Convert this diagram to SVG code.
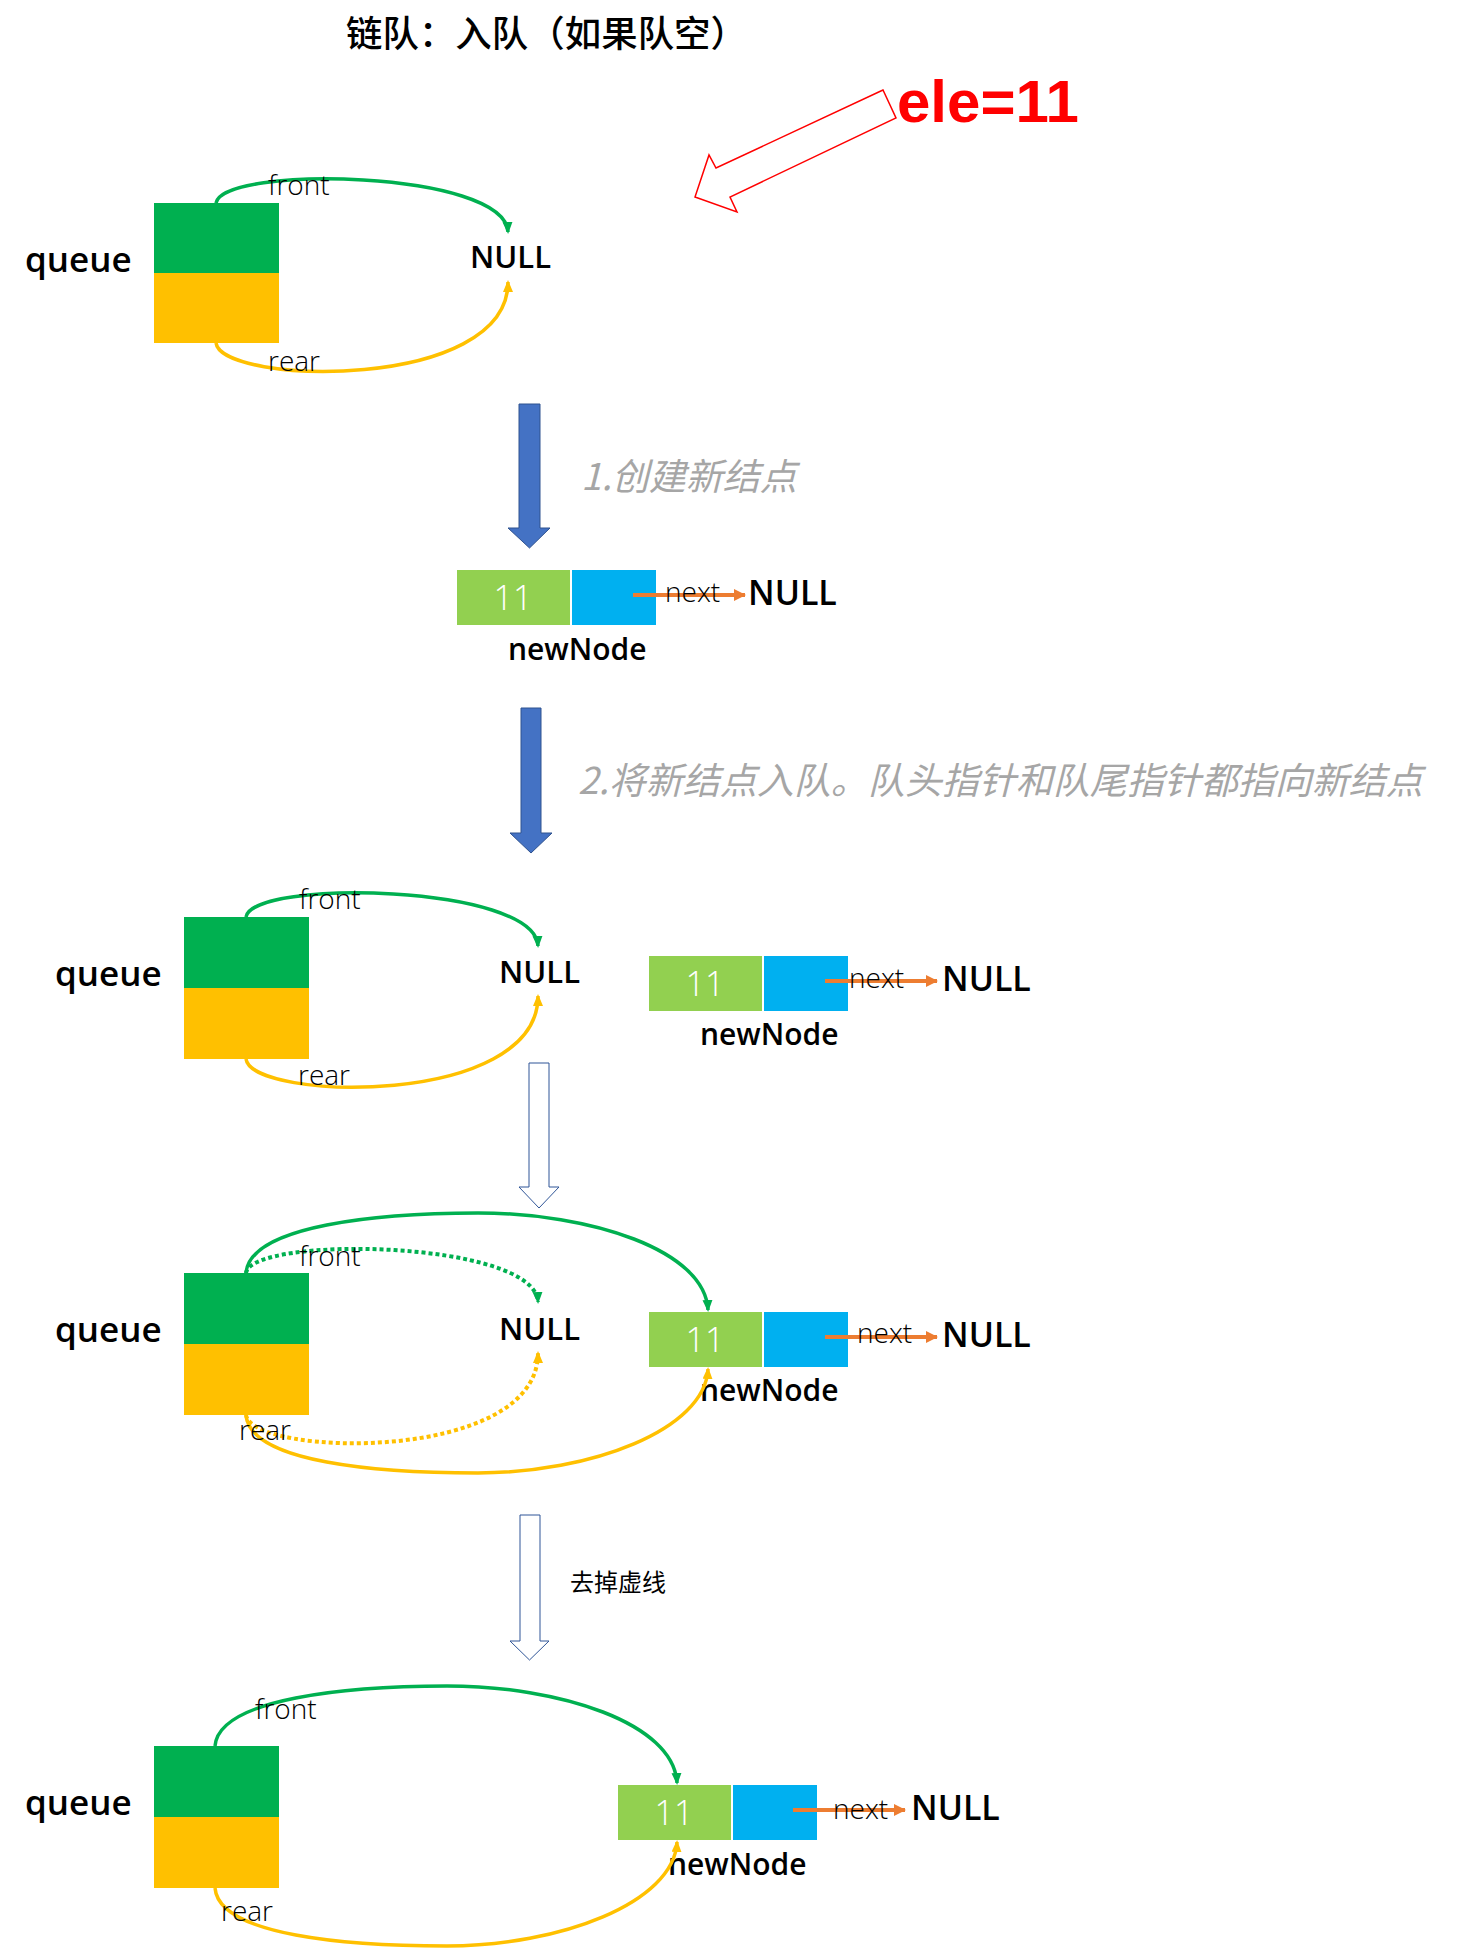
<svg xmlns="http://www.w3.org/2000/svg" width="1459" height="1949" viewBox="0 0 1459 1949">
<style>
.bg{fill:#FFFFFF}
.gr{fill:#00B050}
.yl{fill:#FFC000}
.lg{fill:#92D050}
.bl{fill:#00B0F0}
.lbl{font-family:"Open Sans","Liberation Sans",sans-serif;font-weight:600;fill:#000}
.q{font-size:35px}
.nul{font-size:34px}
.nulS{font-size:31px}
.nn{font-size:30px}
.thin{font-family:"Open Sans","Liberation Sans",sans-serif;font-weight:300;fill:#000;font-size:28px}
.val{font-family:"Open Sans","Liberation Sans",sans-serif;font-weight:300;fill:#FFFFFF;font-size:34px;text-anchor:middle}
.cjk{font-family:"Noto Sans CJK SC","Noto Sans",sans-serif}
.step{font-family:"Noto Sans CJK SC","Noto Sans",sans-serif;font-style:italic;fill:#A6A6A6;font-size:37px}
.cg{fill:none;stroke:#00B050;stroke-width:3.5}
.cy{fill:none;stroke:#FFC000;stroke-width:3.5}
.dot{stroke-width:4;stroke-dasharray:4 3}
.or{fill:none;stroke:#ED7D31;stroke-width:4}
.bigArrow{fill:#4472C4;stroke:#2F528F;stroke-width:1}
.hollow{fill:#FFFFFF;stroke:#2F5597;stroke-width:1}
</style>
<defs>
<marker id="ahG" markerUnits="userSpaceOnUse" markerWidth="13" markerHeight="11" refX="10" refY="5" orient="auto"><path d="M0,0 L12,5 L0,10 z" fill="#00B050"/></marker>
<marker id="ahY" markerUnits="userSpaceOnUse" markerWidth="13" markerHeight="11" refX="10" refY="5" orient="auto"><path d="M0,0 L12,5 L0,10 z" fill="#FFC000"/></marker>
<marker id="ahO" markerUnits="userSpaceOnUse" markerWidth="13" markerHeight="12" refX="11" refY="6" orient="auto"><path d="M0,0 L12,6 L0,12 z" fill="#ED7D31"/></marker>
</defs>
<rect class="bg" x="0" y="0" width="1459" height="1949"/>

<g id="title"><text class="cjk" x="346" y="47" font-size="36" font-weight="500" fill="#000" textLength="401" lengthAdjust="spacingAndGlyphs">链队：入队（如果队空）</text></g>

<g id="ele">
<polygon points="883,90 716,168 709,155 695,197 737,212 730,197 896,118" fill="#FFFFFF" stroke="#FF0000" stroke-width="1.5"/>
<text x="897" y="122" font-family="Liberation Sans,Arial,sans-serif" font-weight="bold" font-size="60" fill="#FF0000">ele=11</text>
</g>

<!-- Section 1 -->
<g id="queue1">
<text class="lbl q" x="25" y="272">queue</text>
<rect class="gr" x="154" y="203" width="125" height="70"/>
<rect class="yl" x="154" y="273" width="125" height="70"/>
</g>
<g id="null1"><text class="lbl nulS" x="470" y="268">NULL</text></g>

<!-- Section 2 -->
<g id="step1">
<polygon class="bigArrow" points="519,404 540,404 540,528 550,528 529.5,548 508,528 519,528"/>
<text class="step" x="581" y="490">1.创建新结点</text>
</g>
<g id="newNode1">
<rect class="lg" x="457" y="570" width="113" height="55"/>
<rect class="bl" x="572" y="570" width="84" height="55"/>
<text class="val" x="513" y="610">11</text>
<text class="lbl nn" x="508" y="660">newNode</text>
</g>
<g id="nullA"><text class="lbl nul" x="748" y="605">NULL</text></g>

<g id="step2">
<polygon class="bigArrow" points="521,708 541,708 541,833 552,833 531,853 510,833 521,833"/>
<text class="step" x="578" y="794">2.将新结点入队。队头指针和队尾指针都指向新结点</text>
</g>

<!-- Section 3 -->
<g id="queue3">
<text class="lbl q" x="55" y="986">queue</text>
<rect class="gr" x="184" y="917" width="125" height="71"/>
<rect class="yl" x="184" y="988" width="125" height="71"/>
</g>
<g id="null3"><text class="lbl nulS" x="499" y="983">NULL</text></g>
<g id="newNode3">
<rect class="lg" x="649" y="956" width="113" height="55"/>
<rect class="bl" x="764" y="956" width="84" height="55"/>
<text class="val" x="705" y="996">11</text>
<text class="lbl nn" x="700" y="1045">newNode</text>
</g>
<g id="nullB"><text class="lbl nul" x="942" y="991">NULL</text></g>

<g id="arrow3"><polygon class="hollow" points="529,1063 549,1063 549,1187 559,1187 539,1208 519,1187 529,1187"/></g>

<!-- Section 4 -->
<g id="queue4">
<text class="lbl q" x="55" y="1342">queue</text>
<rect class="gr" x="184" y="1273" width="125" height="71"/>
<rect class="yl" x="184" y="1344" width="125" height="71"/>
</g>
<g id="null4"><text class="lbl nulS" x="499" y="1340">NULL</text></g>
<g id="newNode4">
<rect class="lg" x="649" y="1312" width="113" height="55"/>
<rect class="bl" x="764" y="1312" width="84" height="55"/>
<text class="val" x="705" y="1352">11</text>
<text class="lbl nn" x="700" y="1401">newNode</text>
</g>
<g id="nullC"><text class="lbl nul" x="942" y="1347">NULL</text></g>

<g id="arrow4">
<polygon class="hollow" points="520,1515 540,1515 540,1641 549,1641 529.5,1660 510,1641 520,1641"/>
<text class="cjk" x="570" y="1591" font-size="24" fill="#000">去掉虚线</text>
</g>

<!-- Section 5 -->
<g id="queue5">
<text class="lbl q" x="25" y="1815">queue</text>
<rect class="gr" x="154" y="1746" width="125" height="71"/>
<rect class="yl" x="154" y="1817" width="125" height="71"/>
</g>
<g id="newNode5">
<rect class="lg" x="618" y="1785" width="113" height="55"/>
<rect class="bl" x="733" y="1785" width="84" height="55"/>
<text class="val" x="674" y="1825">11</text>
<text class="lbl nn" x="668" y="1875">newNode</text>
</g>
<g id="nullD"><text class="lbl nul" x="911" y="1820">NULL</text></g>

<!-- connectors -->
<g id="connectors">
<path class="cg" d="M216,203 C222,165 505,170 508,232" marker-end="url(#ahG)"/>
<path class="cy" d="M216,343 C222,385 508,392 508,282" marker-end="url(#ahY)"/>
<text class="thin" x="268" y="195">front</text>
<text class="thin" x="268" y="371">rear</text>
<path class="or" d="M633,595 L745,595" marker-end="url(#ahO)"/>
<text class="thin" x="665" y="602">next</text>

<path class="cg" d="M246,917 C252,879 535,884 538,946" marker-end="url(#ahG)"/>
<path class="cy" d="M246,1059 C252,1101 538,1108 538,996" marker-end="url(#ahY)"/>
<text class="thin" x="299" y="909">front</text>
<text class="thin" x="298" y="1085">rear</text>
<path class="or" d="M825,981 L937,981" marker-end="url(#ahO)"/>
<text class="thin" x="849" y="988">next</text>

<path class="cg dot" d="M246,1273 C252,1235 535,1240 538,1302" marker-end="url(#ahG)"/>
<path class="cy dot" d="M246,1415 C252,1457 538,1464 538,1353" marker-end="url(#ahY)"/>
<path class="cg" d="M246,1273 C250,1225 380,1213 478,1213 C590,1213 705,1250 708,1310" marker-end="url(#ahG)"/>
<path class="cy" d="M246,1415 C250,1463 380,1473 478,1473 C590,1473 705,1430 708,1369" marker-end="url(#ahY)"/>
<text class="thin" x="299" y="1266">front</text>
<text class="thin" x="239" y="1440">rear</text>
<path class="or" d="M825,1337 L937,1337" marker-end="url(#ahO)"/>
<text class="thin" x="857" y="1343">next</text>

<path class="cg" d="M215,1746 C219,1698 349,1686 447,1686 C559,1686 674,1723 677,1783" marker-end="url(#ahG)"/>
<path class="cy" d="M215,1888 C219,1936 349,1946 447,1946 C559,1946 674,1903 677,1842" marker-end="url(#ahY)"/>
<text class="thin" x="255" y="1719">front</text>
<text class="thin" x="221" y="1921">rear</text>
<path class="or" d="M793,1810 L905,1810" marker-end="url(#ahO)"/>
<text class="thin" x="833" y="1819">next</text>
</g>
</svg>
